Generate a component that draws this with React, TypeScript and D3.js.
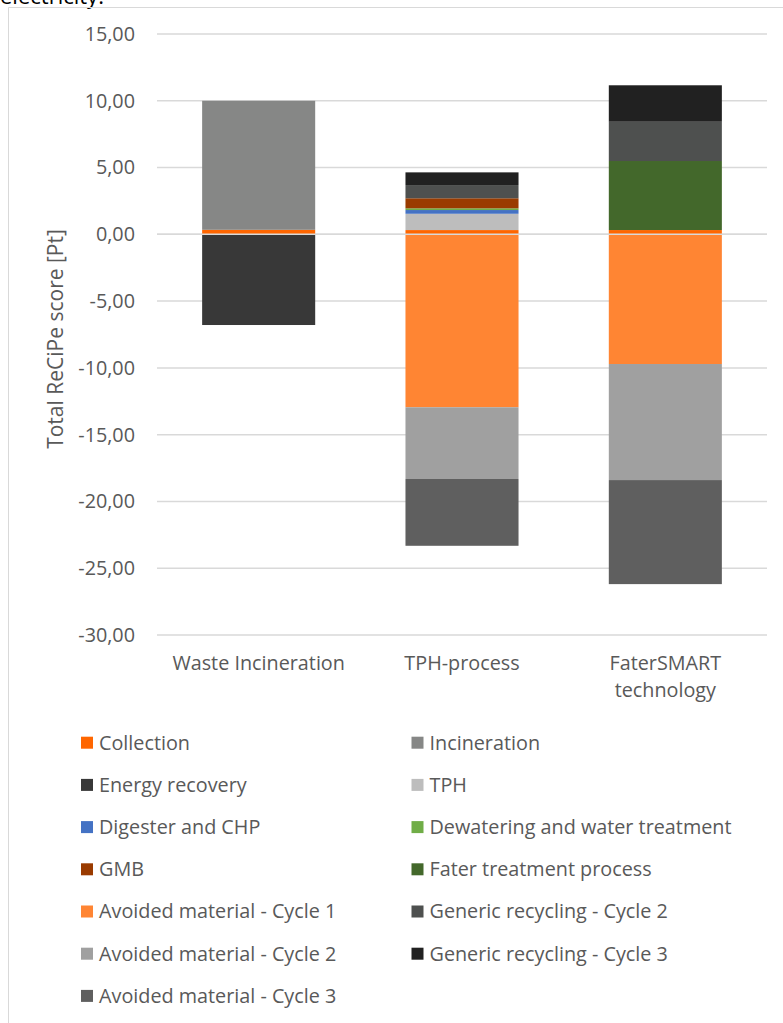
import * as d3 from "d3";
import { useEffect, useRef } from "react";

// categories and series (ReCiPe points)
const categories = ["Waste Incineration", "TPH-process", "FaterSMART technology"];
const seriesNames = [
  "Collection",
  "Incineration",
  "Energy recovery",
  "TPH",
  "Digester and CHP",
  "Dewatering and water treatment",
  "GMB",
  "Fater treatment process",
  "Avoided material - Cycle 1",
  "Generic recycling - Cycle 2",
  "Avoided material - Cycle 2",
  "Generic recycling - Cycle 3",
  "Avoided material - Cycle 3",
];
const seriesColors = [
  "#FF6600", "#868786", "#383838", "#BDBDBD", "#4472C4", "#70AD47", "#9A3B00",
  "#43682B", "#FF8533", "#4E504F", "#A0A0A0", "#212121", "#5F5F5F",
];
const collection = [0.34, 0.32, 0.32];
const incineration = [9.66, 0, 0];
const energyRecovery = [-6.79, 0, 0];
const tph = [0, 1.22, 0];
const digester = [0, 0.28, 0];
const dewatering = [0, 0.13, 0];
const gmb = [0, 0.75, 0];
const faterTreatment = [0, 0, 5.17];
const avoided1 = [0, -12.95, -9.71];
const generic2 = [0, 0.99, 2.94];
const avoided2 = [0, -5.37, -8.69];
const generic3 = [0, 0.95, 2.73];
const avoided3 = [0, -5.0, -7.79];
const yTicks = [15, 10, 5, 0, -5, -10, -15, -20, -25, -30];

const seriesValues = [
  collection, incineration, energyRecovery, tph, digester, dewatering, gmb,
  faterTreatment, avoided1, generic2, avoided2, generic3, avoided3,
];

const FONT = "'Open Sans', sans-serif";
const FS = "19.8px";

const App = () => {
  const ref = useRef(null);

  useEffect(() => {
    const svg = d3.select(ref.current);
    svg.selectAll("*").remove();

    const x = d3.scaleBand().domain(categories).range([157, 767]).paddingInner(0.444).paddingOuter(0.222);
    const y = d3.scaleLinear().domain([-30, 15]).range([635, 34]);

    // caption text cut off at top of the crop
    svg.append("text").attr("x", 0).attr("y", 4).style("font-family", FONT).style("font-size", "22px")
      .attr("fill", "#000").text("electricity.");

    // chart frame
    svg.append("path").attr("d", "M8.5,1023 V7.5 H783").attr("fill", "none").attr("stroke", "#D9D9D9").attr("stroke-width", 1);

    // gridlines
    svg.append("g").selectAll("line").data(yTicks).enter().append("line")
      .attr("x1", 157).attr("x2", 767)
      .attr("y1", d => y(d)).attr("y2", d => y(d))
      .attr("stroke", "#D9D9D9").attr("stroke-width", 1.5);

    // y tick labels
    svg.append("g").selectAll("text").data(yTicks).enter().append("text")
      .attr("x", 135).attr("y", d => y(d)).attr("dy", "0.35em")
      .attr("text-anchor", "end").style("font-family", FONT).style("font-size", FS)
      .attr("fill", "#595959").text(d => d.toFixed(2).replace(".", ","));

    // y title
    svg.append("text").attr("transform", "translate(56,339) rotate(-90)")
      .attr("text-anchor", "middle").attr("dy", "0.35em")
      .style("font-family", FONT).style("font-size", "21px").attr("fill", "#595959")
      .text("Total ReCiPe score [Pt]");

    // stacked bars
    const rows = categories.map((c, i) => {
      const r = { cat: c };
      seriesNames.forEach((s, k) => { r[s] = seriesValues[k][i]; });
      return r;
    });
    const stacked = d3.stack().keys(seriesNames).offset(d3.stackOffsetDiverging)(rows);

    svg.append("g").selectAll("g").data(stacked).enter().append("g")
      .attr("fill", (d, i) => seriesColors[i])
      .selectAll("rect").data(d => d).enter().append("rect")
      .attr("x", d => x(d.data.cat))
      .attr("width", x.bandwidth())
      .attr("y", d => y(Math.max(d[0], d[1])))
      .attr("height", d => Math.abs(y(d[0]) - y(d[1])));

    // horizontal axis line over bars
    svg.append("line").attr("x1", 157).attr("x2", 767).attr("y1", y(0)).attr("y2", y(0))
      .attr("stroke", "#D9D9D9").attr("stroke-width", 1.5);

    // category labels
    const xl = svg.append("g").style("font-family", FONT).style("font-size", FS).attr("fill", "#595959");
    categories.forEach(c => {
      const lines = c === "FaterSMART technology" ? ["FaterSMART", "technology"] : [c];
      lines.forEach((t, j) => {
        xl.append("text").attr("x", x(c) + x.bandwidth() / 2).attr("y", 670 + j * 27)
          .attr("text-anchor", "middle").text(t);
      });
    });

    // legend
    const lg = svg.append("g").style("font-family", FONT).style("font-size", FS);
    seriesNames.forEach((s, i) => {
      const col = i % 2;
      const row = Math.floor(i / 2);
      const cy = 742.7 + row * 42.2;
      const mx = col === 0 ? 81 : 411.5;
      lg.append("rect").attr("x", mx).attr("y", cy - 6).attr("width", 12).attr("height", 12).attr("fill", seriesColors[i]);
      lg.append("text").attr("x", mx + 18).attr("y", cy).attr("dy", "0.35em").attr("fill", "#595959").text(s);
    });
  }, []);

  return (
    <svg ref={ref} width={783} height={1023}
      style={{ position: "absolute", left: 0, top: 0, background: "#fff", display: "block" }} />
  );
};

export default App;
